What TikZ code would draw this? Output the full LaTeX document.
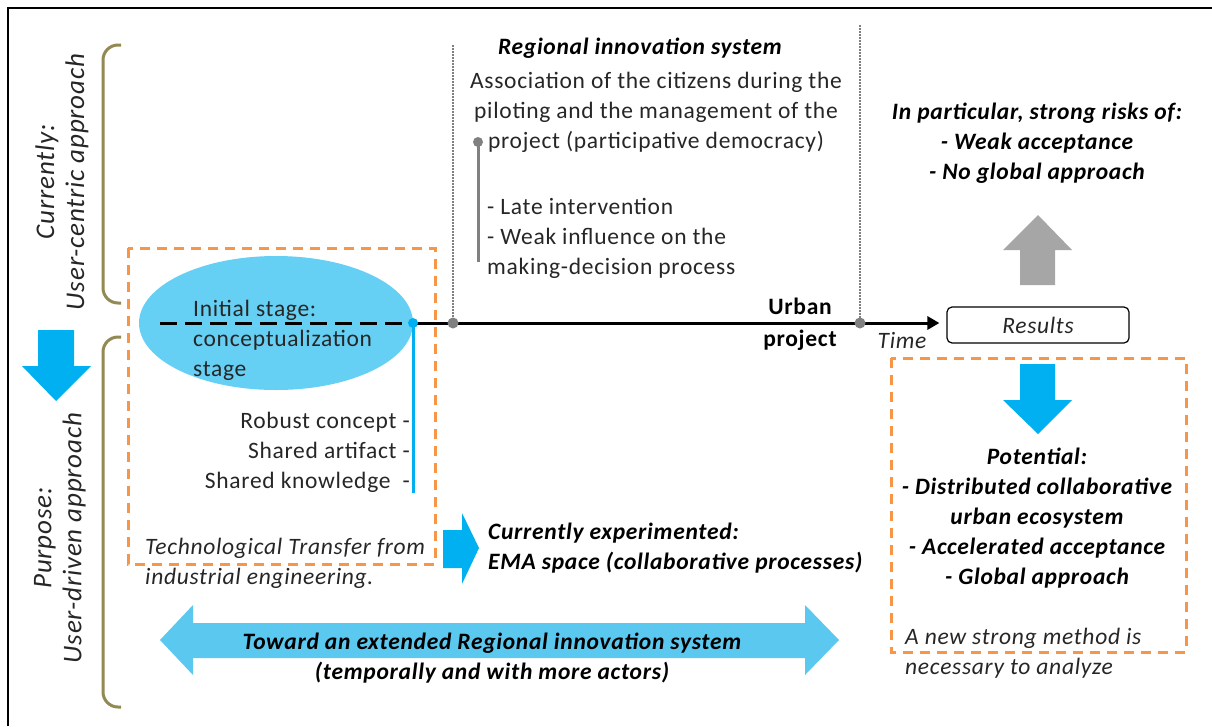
\documentclass[tikz,border=0pt]{standalone}
\usepackage{fontspec}
\setmainfont{Carlito}[LetterSpace=3]
\usetikzlibrary{arrows.meta,shapes.geometric}
\definecolor{myblue}{HTML}{00B0F0}
\definecolor{lblue}{HTML}{66CFF4}
\definecolor{arrblue}{HTML}{5BC8F0}
\definecolor{orng}{HTML}{F79646}
\definecolor{olive}{HTML}{938953}
\definecolor{gry}{HTML}{808080}
\definecolor{lgry}{HTML}{A6A6A6}
\definecolor{txtc}{HTML}{262626}
\begin{document}
\begin{tikzpicture}[x=1pt,y=-1pt,
  txt/.style={font=\fontsize{23.5}{30}\selectfont, inner sep=0pt, text=txtc},
  itxt/.style={font=\fontsize{23.5}{30}\selectfont\itshape, inner sep=0pt, text=txtc},
  bitxt/.style={font=\fontsize{23.5}{30}\selectfont\bfseries\itshape, inner sep=0pt, text=black},
  btxt/.style={font=\fontsize{23.5}{32}\selectfont\bfseries, inner sep=0pt, text=black},
  rottxt/.style={font=\fontsize{27}{30}\selectfont\itshape, inner sep=0pt, text=txtc, rotate=90, align=center},
  brace/.style={olive, line width=3pt, rounded corners=15pt},
  orbox/.style={orng, line width=3pt, dash pattern=on 10pt off 7pt},
  gdot/.style={gry, line width=2pt, dash pattern=on 1.5pt off 1.5pt},
  timeline/.style={line width=3pt}
]
\useasboundingbox (0,0) rectangle (1212,726);
% frame
\draw[line width=2pt] (8,726) -- (8,8) -- (1212,8);
% braces
\draw[brace] (121,45) -- (103,45) -- (103,303) -- (121,303);
\draw[brace] (121,337) -- (103,337) -- (103,707) -- (121,707);
\node[rottxt] (cur) at (62,182) {Currently:\\User-centric approach};
\node[rottxt] (pur) at (60,538) {Purpose:\\User-driven approach};
% left blue arrow
\fill[myblue] (38,330) -- (74,330) -- (74,366) -- (91,366) -- (56,401) -- (22,366) -- (38,366) -- cycle;
% left orange box
\draw[orbox] (128,248) rectangle (435,564);
% ellipse
\node[ellipse, fill=lblue, minimum width=274pt, minimum height=134pt, inner sep=0pt] (ell) at (276,323) {};
\coordinate (ds) at (160,323);
\coordinate (bd) at (413,323);
\coordinate (bb) at (413,493);
\coordinate (g1) at (453,323);
\coordinate (g2) at (860,323);
\coordinate (g1t) at (453,45);
\coordinate (g2t) at (860,25);
\draw[timeline, dash pattern=on 17pt off 8pt] (ds) -- (bd);
\node[txt, anchor=west, align=left] (init) at (193,340) {Initial stage:\\conceptualization\\stage};
\draw[myblue, line width=3pt] (bd) -- (bb);
% dotted verticals
\draw[gdot] (g1t) -- (g1);
\draw[gdot] (g2t) -- (g2);
% results
\node[draw, rounded corners=5pt, line width=1.2pt, minimum width=182pt, minimum height=36pt, inner sep=0pt, itxt] (res) at (1038,325) {Results};
\draw[timeline, -{Triangle[length=12pt,width=13pt]}] (bd) -- ([xshift=-7pt]res.west |- bd);
\fill[myblue] (bd) circle (5);
\fill[gry] (g1) circle (5.5);
\fill[gry] (g2) circle (5.5);
\node[btxt, align=center] (urban) at (800,324) {Urban\\project};
\node[itxt] (time) at (902,340) {Time};
% regional innovation system
\node[bitxt] (ris) at (640,48) {Regional innovation system};
\node[txt, align=center] (assoc) at (656,112) {Association of the citizens during the\\piloting and the management of the\\project (participative democracy)};
\coordinate (gvt) at (478,142);
\coordinate (gvb) at (478,262);
\draw[gry, line width=3pt] (gvt) -- (gvb);
\fill[gry] (gvt) circle (5);
\node[txt, anchor=west, align=left] (late) at (487,238) {- Late intervention\\- Weak influence on the\\making-decision process};
% risks
\node[bitxt, align=center] (risk) at (1037,143) {In particular, strong risks of:\\- Weak acceptance\\- No global approach};
\fill[lgry] (1020,285) -- (1055,285) -- (1055,250) -- (1072,250) -- (1038,215) -- (1003,250) -- (1020,250) -- cycle;
% right box
\draw[orbox] (891,358) rectangle (1186,652);
\fill[myblue] (1020,364) -- (1055,364) -- (1055,400) -- (1072,400) -- (1038,434) -- (1003,400) -- (1020,400) -- cycle;
\node[bitxt, align=center] (pot) at (1037,518) {Potential:\\- Distributed collaborative\\urban ecosystem\\- Accelerated acceptance\\- Global approach};
\node[itxt, anchor=west, align=left] (newm) at (905,653) {A new strong method is\\necessary to analyze};
% left box content
\node[txt, anchor=east, align=right] (rob) at (410,452) {Robust concept -\\Shared artifact -\\Shared knowledge\ \ -};
\node[itxt, anchor=west, align=left] (tech) at (145,563) {Technological Transfer from\\industrial engineering.};
\fill[myblue] (443,530) -- (462,530) -- (462,513) -- (479,548) -- (462,584) -- (462,568) -- (443,568) -- cycle;
\node[bitxt, anchor=west, align=left] (exp) at (488,548) {Currently experimented:\\EMA space (collaborative processes)};
% double arrow
\fill[arrblue] (160,640) -- (193,605) -- (193,623) -- (805,623) -- (805,605) -- (839,640) -- (805,675) -- (805,658) -- (193,658) -- (193,675) -- cycle;
\node[bitxt, align=center] (tow) at (492,658) {Toward an extended Regional innovation system\\(temporally and with more actors)};
\end{tikzpicture}
\end{document}
